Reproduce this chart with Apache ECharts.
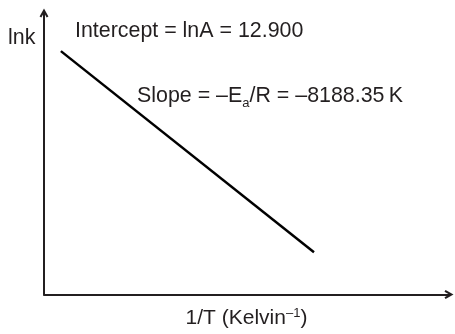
<!DOCTYPE html>
<html>
<head>
<meta charset="utf-8">
<script src="https://cdn.jsdelivr.net/npm/echarts@6/dist/echarts.min.js"></script>
<style>
  html, body { margin: 0; padding: 0; background: #fff; }
  #chart { width: 455px; height: 334px; }
</style>
</head>
<body>
<div id="chart"></div>
<script>
// Arrhenius plot: ln k against 1/T, a straight line of slope -Ea/R
const invT = [0.0028, 0.0034];          // 1/T (K^-1)
const lnk = [-10.03, -14.94];           // ln k at those points
const xRange = [0.00276, 0.00372];
const yRange = [-15.97, -9.10];

const FONT = '"Liberation Sans", Arial, sans-serif';
const INK = '#231f20';
// open chevron arrow head, pointing up before the axis rotates it
const chevron = 'path://M0,9 L5,0 L10,9 L8,10.2 L5,4.8 L2,10.2 Z';

const axisLine = {
  show: true,
  onZero: false,
  symbol: ['none', chevron],
  symbolSize: [11, 9],
  lineStyle: { color: INK, width: 2 }
};

const chart = echarts.init(document.getElementById('chart'), null, { renderer: 'canvas' });
chart.setOption({
  animation: false,
  grid: { left: 44, right: 6, top: 13, bottom: 28 },
  xAxis: {
    type: 'value',
    min: xRange[0], max: xRange[1],
    axisLine: axisLine,
    axisTick: { show: false },
    axisLabel: { show: false },
    splitLine: { show: false },
    name: '{m|1/T (Kelvin}{s|–1}{m|)}',
    nameLocation: 'middle',
    nameGap: 12,
    nameTextStyle: {
      rich: {
        m: { fontFamily: FONT, fontSize: 21, color: INK, lineHeight: 24 },
        s: { fontFamily: FONT, fontSize: 13, color: INK, verticalAlign: 'top', lineHeight: 12 }
      }
    }
  },
  yAxis: {
    type: 'value',
    min: yRange[0], max: yRange[1],
    axisLine: axisLine,
    axisTick: { show: false },
    axisLabel: { show: false },
    splitLine: { show: false }
  },
  series: [{
    type: 'line',
    data: invT.map((x, i) => [x, lnk[i]]),
    showSymbol: false,
    lineStyle: { color: '#000', width: 2.5 },
    silent: true
  }],
  graphic: [
    {
      type: 'text', x: 8, y: 28,
      style: { text: 'lnk', font: '21.4px ' + FONT, fill: INK }
    },
    {
      type: 'text', x: 75, y: 21,
      style: { text: 'Intercept = lnA = 12.900', font: '21.4px ' + FONT, fill: INK }
    },
    {
      type: 'text', x: 137, y: 82,
      style: {
        text: '{m|Slope = –E}{b|a}{m|/R = –8188.35\u2009K}',
        rich: {
          m: { fontFamily: FONT, fontSize: 21.4, fill: INK, lineHeight: 28 },
          b: { fontFamily: FONT, fontSize: 13, fill: INK, verticalAlign: 'bottom', lineHeight: 14 }
        }
      }
    }
  ]
});
</script>
</body>
</html>
